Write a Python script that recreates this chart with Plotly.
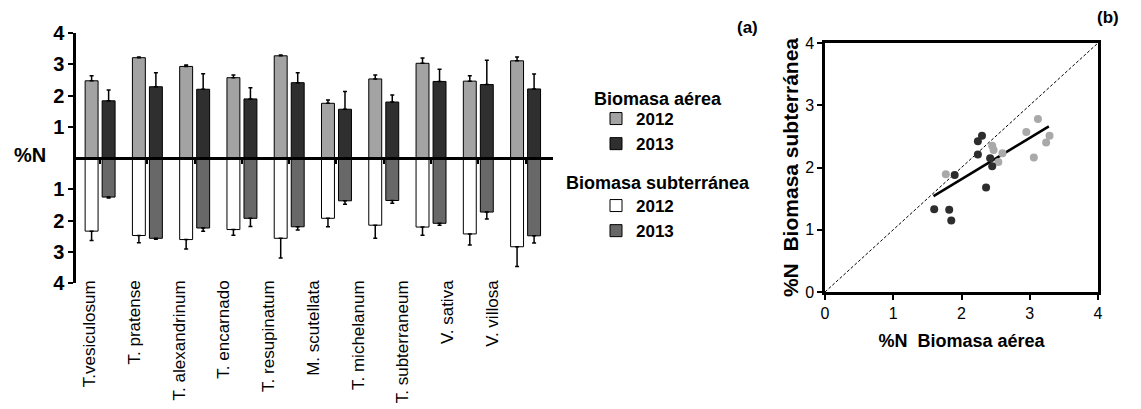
import plotly.graph_objects as go

# ---------------- data ----------------
species = ["T.vesiculosum", "T. pratense", "T. alexandrinum", "T. encarnado",
           "T. resupinatum", "M. scutellata", "T. michelanum", "T. subterraneum",
           "V. sativa", "V. villosa"]

aerea_2012 = [2.47, 3.21, 2.93, 2.57, 3.27, 1.75, 2.53, 3.03, 2.46, 3.11]
aerea_2012_se = [0.16, 0.02, 0.05, 0.09, 0.03, 0.11, 0.13, 0.17, 0.17, 0.12]
aerea_2013 = [1.83, 2.28, 2.20, 1.89, 2.41, 1.56, 1.79, 2.45, 2.35, 2.21]
aerea_2013_se = [0.35, 0.45, 0.50, 0.36, 0.32, 0.57, 0.23, 0.39, 0.78, 0.48]

subt_2012 = [2.34, 2.48, 2.61, 2.29, 2.57, 1.93, 2.15, 2.21, 2.43, 2.84]
subt_2012_se = [0.30, 0.23, 0.30, 0.18, 0.63, 0.27, 0.42, 0.26, 0.35, 0.63]
subt_2013 = [1.25, 2.57, 2.24, 1.93, 2.20, 1.37, 1.36, 2.09, 1.73, 2.49]
subt_2013_se = [0.03, 0.03, 0.10, 0.26, 0.10, 0.11, 0.09, 0.06, 0.22, 0.23]

# panel (b): %N aerial vs %N below-ground biomass
x_2012 = [1.77, 2.45, 2.47, 2.54, 2.60, 2.95, 3.06, 3.12, 3.24, 3.29]
y_2012 = [1.89, 2.35, 2.28, 2.09, 2.23, 2.57, 2.16, 2.78, 2.40, 2.51]
x_2013 = [1.60, 1.82, 1.85, 1.90, 2.24, 2.30, 2.24, 2.36, 2.42, 2.45]
y_2013 = [1.33, 1.32, 1.15, 1.88, 2.42, 2.51, 2.21, 1.68, 2.15, 2.02]
fit_x = [1.59, 3.28]
fit_y = [1.54, 2.66]
identity = [0, 4]

yticks_a = [-4, -3, -2, -1, 1, 2, 3, 4]
ticks_b = [0, 1, 2, 3, 4]

# ---------------- styling ----------------
W, H = 1141, 409
FONT = "Liberation Sans, Arial, sans-serif"
C_A12, C_A13, C_S12, C_S13 = "#a3a3a3", "#2f2f2f", "#ffffff", "#686868"
C_P12, C_P13 = "#a9a9a9", "#2d2d2d"


def px(x):
    return x / W


def py(y):
    return 1 - y / H


xa_dom = [px(76), px(553)]
ya_dom = [py(283), py(33)]
xb_dom = [px(825), px(1098)]
yb_dom = [py(292), py(43)]

fig = go.Figure()


def bars(values, se, color, name, group, legend, down=False):
    zeros = [0] * len(values)
    fig.add_trace(go.Bar(
        x=species,
        y=[-v for v in values] if down else values,
        name=name,
        offsetgroup=group,
        legend=legend,
        marker=dict(color=color, line=dict(color="black", width=1)),
        error_y=dict(type="data", symmetric=False,
                     array=zeros if down else se,
                     arrayminus=se if down else zeros,
                     color="black", thickness=1.5, width=2),
        xaxis="x", yaxis="y",
    ))


bars(aerea_2012, aerea_2012_se, C_A12, "2012", "g12", "legend")
bars(aerea_2013, aerea_2013_se, C_A13, "2013", "g13", "legend")
bars(subt_2012, subt_2012_se, C_S12, "2012", "g12", "legend2", down=True)
bars(subt_2013, subt_2013_se, C_S13, "2013", "g13", "legend2", down=True)

# carrier trace for the species labels axis
fig.add_trace(go.Scatter(x=species, y=[0] * len(species), mode="markers",
                         marker=dict(opacity=0), showlegend=False,
                         hoverinfo="skip", xaxis="x3", yaxis="y"))

# panel (b)
fig.add_trace(go.Scatter(x=identity, y=identity, mode="lines",
                         line=dict(color="black", width=1, dash="3px,2px"),
                         showlegend=False, xaxis="x2", yaxis="y2"))
fig.add_trace(go.Scatter(x=fit_x, y=fit_y, mode="lines",
                         line=dict(color="black", width=2.5),
                         showlegend=False, xaxis="x2", yaxis="y2"))
fig.add_trace(go.Scatter(x=x_2012, y=y_2012, mode="markers",
                         marker=dict(color=C_P12, size=8),
                         showlegend=False, xaxis="x2", yaxis="y2"))
fig.add_trace(go.Scatter(x=x_2013, y=y_2013, mode="markers",
                         marker=dict(color=C_P13, size=8),
                         showlegend=False, xaxis="x2", yaxis="y2"))

bold = dict(family=FONT, color="black", weight="bold")

fig.update_layout(
    width=W, height=H,
    autosize=False,
    margin=dict(l=0, r=0, t=0, b=0, pad=0, autoexpand=False),
    paper_bgcolor="white", plot_bgcolor="white",
    barmode="group", bargap=0.28, bargroupgap=0.24,
    font=dict(family=FONT, color="black"),
    xaxis=dict(domain=xa_dom, range=[-0.51, 9.58], type="category",
               categoryarray=species, anchor="free", automargin=False,
               position=(ya_dom[0] + ya_dom[1]) / 2,
               showticklabels=False, showgrid=False, showline=True,
               linecolor="black", linewidth=3, ticks="outside",
               ticklen=4, tickwidth=1.5, tickcolor="black"),
    xaxis3=dict(domain=xa_dom, range=[-0.31, 10.36], type="category",
                categoryarray=species, overlaying="x", anchor="y",
                automargin=False, ticklabelstandoff=-7,
                side="bottom", showgrid=False, showline=False, ticks="",
                tickangle=-90, tickfont=dict(family=FONT, size=17)),
    yaxis=dict(domain=ya_dom, range=[-4, 4], anchor="x", automargin=False,
               tickvals=yticks_a, ticktext=[str(abs(v)) for v in yticks_a],
               showgrid=False, zeroline=False, showline=True,
               linecolor="black", linewidth=2.5, ticks="outside",
               ticklen=5, tickwidth=2, tickcolor="black",
               tickfont=dict(size=20, **bold)),
    xaxis2=dict(domain=xb_dom, range=[0, 4], anchor="y2", automargin=False,
                tickvals=ticks_b, showgrid=False, zeroline=False,
                showline=True, mirror=True, linecolor="black", linewidth=2.5,
                ticks="outside", ticklen=5, tickwidth=1.5, tickcolor="black",
                tickfont=dict(family=FONT, size=16),
                title=dict(text="%N  Biomasa aérea", standoff=14,
                           font=dict(size=18, **bold))),
    yaxis2=dict(domain=yb_dom, range=[0, 4], anchor="x2", automargin=False,
                tickvals=ticks_b, showgrid=False, zeroline=False,
                showline=True, mirror=True, linecolor="black", linewidth=2.5,
                ticks="outside", ticklen=5, tickwidth=1.5, tickcolor="black",
                tickfont=dict(family=FONT, size=16),
                title=dict(text="%N  Biomasa subterránea", standoff=1,
                           font=dict(size=21, **bold))),
    legend=dict(x=px(596), y=py(101), xanchor="left", yanchor="top",
                bgcolor="rgba(0,0,0,0)", font=dict(size=17, **bold),
                tracegroupgap=0, itemclick=False),
    legend2=dict(x=px(596), y=py(188), xanchor="left", yanchor="top",
                 bgcolor="rgba(0,0,0,0)", font=dict(size=17, **bold),
                 tracegroupgap=0, itemclick=False),
    showlegend=True,
)

annotations = [
    dict(text="%N", x=px(30), y=py(155), size=20),
    dict(text="Biomasa aérea", x=px(658), y=py(99), size=18),
    dict(text="Biomasa subterránea", x=px(658), y=py(183), size=18),
    dict(text="(a)", x=px(747), y=py(28), size=17),
    dict(text="(b)", x=px(1108), y=py(18), size=17),
]
for a in annotations:
    fig.add_annotation(text=a["text"], x=a["x"], y=a["y"], xref="paper",
                       yref="paper", xanchor="center", yanchor="middle",
                       showarrow=False, font=dict(size=a["size"], **bold))

fig.write_html("out.html")
